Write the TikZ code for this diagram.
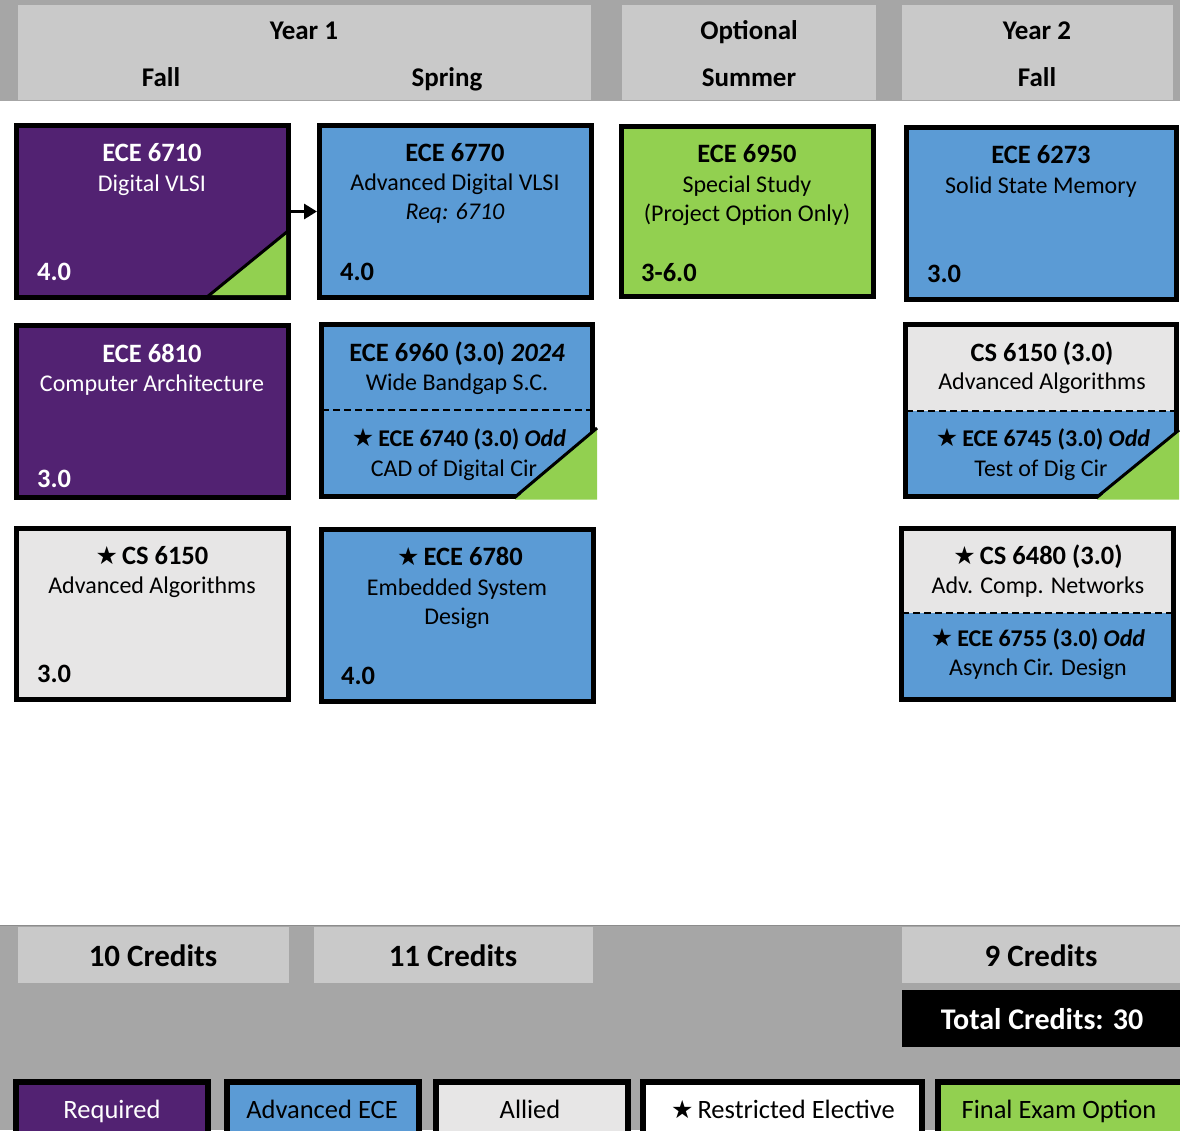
\documentclass[tikz,border=0pt]{standalone}
\usepackage{fontspec}
\setmainfont{Carlito}
\newfontfamily\starfont{DejaVu Sans}
\usetikzlibrary{arrows.meta}
\definecolor{bandgray}{HTML}{A6A6A6}
\definecolor{hdrgray}{HTML}{C9C9C9}
\definecolor{cpurple}{HTML}{522272}
\definecolor{cblue}{HTML}{5B9BD5}
\definecolor{cgreen}{HTML}{92D050}
\definecolor{callied}{HTML}{E7E6E6}
\newcommand{\mystar}{{\starfont\fontsize{25}{25}\selectfont\char"2605}\hspace{4pt}}
\newcommand{\fb}{\fontsize{24}{29}\selectfont}
\newcommand{\ft}{\fontsize{26.5}{29}\selectfont\bfseries}
\newcommand{\fs}{\fontsize{24}{29}\selectfont\bfseries}
\newcommand{\fl}{\fontsize{26.5}{29}\selectfont}
\newcommand{\fh}{\fontsize{27}{29}\selectfont\bfseries}
\newcommand{\fc}{\fontsize{31}{34}\selectfont\bfseries}
\begin{document}
\begin{tikzpicture}[x=1pt,y=-1pt,
  cbox/.style={draw=black, line width=5pt, outer sep=2.5pt, inner sep=0pt, anchor=north west},
  lgbox/.style={draw=black, line width=6pt, outer sep=3pt, inner sep=0pt, anchor=north west, minimum width=192pt, minimum height=80pt},
  hbox/.style={fill=hdrgray, inner sep=0pt, anchor=north west, outer sep=0pt},
  lbl/.style={anchor=base, inner sep=0pt, font=\fb},
  ttl/.style={anchor=base, inner sep=0pt, font=\ft},
  sttl/.style={anchor=base, inner sep=0pt, font=\fs},
  cr/.style={anchor=base west, inner sep=0pt, font=\ft},
  hdr/.style={anchor=base, inner sep=0pt, font=\fh},
  leg/.style={anchor=base, inner sep=0pt, font=\fl},
  dsh/.style={line width=2pt, dash pattern=on 7pt off 4pt},
  tri/.style={fill=cgreen},
  hyp/.style={line width=3pt}
]
\useasboundingbox (0,0) rectangle (1180,1130);
\fill[white] (0,0) rectangle (1180,1130);
% bands
\fill[bandgray] (0,0) rectangle (1180,101);
\fill[bandgray] (0,925) rectangle (1180,1130);
\draw[line width=1pt, black!45] (0,925.5) -- (1180,925.5);
% header boxes
\node[hbox, minimum width=573pt, minimum height=95pt] (hy1) at (18,5) {};
\node[hbox, minimum width=254pt, minimum height=95pt] (hopt) at (622,5) {};
\node[hbox, minimum width=271pt, minimum height=95pt] (hy2) at (902,5) {};
\node[hdr] (ty1) at (304,39) {Year 1};
\node[hdr] (tfall1) at (161,86) {Fall};
\node[hdr] (tspr) at (447,86) {Spring};
\node[hdr] (topt) at (749,39) {Optional};
\node[hdr] (tsum) at (749,86) {Summer};
\node[hdr] (ty2) at (1037,39) {Year 2};
\node[hdr] (tfall2) at (1037,86) {Fall};

% ---------- Row 1
\node[cbox, fill=cpurple, minimum width=272pt, minimum height=172pt] (b6710) at (14,123) {};
\fill[tri] (209,295) -- (286,232) -- (286,295) -- cycle;
\draw[hyp] (207,297) -- (288,231);
\node[ttl, white] (t6710a) at (152,161) {ECE 6710};
\node[lbl, white] (t6710b) at (152,191) {Digital VLSI};
\node[cr, white] (t6710c) at (37,280) {4.0};

\node[cbox, fill=cblue, minimum width=272pt, minimum height=172pt] (b6770) at (317,123) {};
\node[ttl] (t6770a) at (455,161) {ECE 6770};
\node[lbl] (t6770b) at (455,190) {Advanced Digital VLSI};
\node[lbl, font=\fb\itshape] (t6770c) at (455,219) {Req: 6710};
\node[cr] (t6770d) at (340,280) {4.0};
\draw[line width=3pt, -{Triangle[length=13pt,width=15pt]}] (b6710.east) -- (b6770.west);

\node[cbox, fill=cgreen, minimum width=252pt, minimum height=170pt] (b6950) at (619,124) {};
\node[ttl] (t6950a) at (747,162) {ECE 6950};
\node[lbl] (t6950b) at (747,192) {Special Study};
\node[lbl] (t6950c) at (747,221) {(Project Option Only)};
\node[cr] (t6950d) at (641,281) {3-6.0};

\node[cbox, fill=cblue, minimum width=270pt, minimum height=172pt] (b6273) at (904,125) {};
\node[ttl] (t6273a) at (1041,163) {ECE 6273};
\node[lbl] (t6273b) at (1041,193) {Solid State Memory};
\node[cr] (t6273c) at (927,282) {3.0};

% ---------- Row 2
\node[cbox, fill=cpurple, minimum width=272pt, minimum height=172pt] (b6810) at (14,323) {};
\node[ttl, white] (t6810a) at (152,362) {ECE 6810};
\node[lbl, white] (t6810b) at (152,391) {Computer Architecture};
\node[cr, white] (t6810c) at (37,487) {3.0};

\node[cbox, fill=cblue, minimum width=271pt, minimum height=172pt] (b6960) at (319,322) {};
\draw[dsh] (322,410) -- (592,410);
\fill[tri] (515,499.5) -- (597,428) -- (597,499.5) -- cycle;
\draw[hyp] (515,497) -- (597,428);
\node[ttl] (t6960a) at (457,361) {ECE 6960 (3.0) \textit{2024}};
\node[lbl] (t6960b) at (457,390) {Wide Bandgap S.C.};
\node[sttl] (t6740a) at (459,446) {\mystar ECE 6740 (3.0) \textit{Odd}};
\node[lbl] (t6740b) at (454,476) {CAD of Digital Cir};

\node[cbox, fill=cblue, minimum width=271pt, minimum height=172pt] (b6150r) at (903,322) {};
\fill[callied] (908,327) rectangle (1174,410.5);
\draw[dsh] (906,410.5) -- (1176,410.5);
\fill[tri] (1097,499.5) -- (1179,430) -- (1179,499.5) -- cycle;
\draw[hyp] (1097,497) -- (1179,430);
\node[ttl] (t6150ra) at (1042,361) {CS 6150 (3.0)};
\node[lbl] (t6150rb) at (1042,389) {Advanced Algorithms};
\node[sttl] (t6745a) at (1043,446) {\mystar ECE 6745 (3.0) \textit{Odd}};
\node[lbl] (t6745b) at (1041,476) {Test of Dig Cir};

% ---------- Row 3
\node[cbox, fill=callied, minimum width=272pt, minimum height=171pt] (b6150l) at (14,526) {};
\node[ttl] (t6150la) at (152,564) {\mystar CS 6150};
\node[lbl] (t6150lb) at (152,593) {Advanced Algorithms};
\node[cr] (t6150lc) at (37,682) {3.0};

\node[cbox, fill=cblue, minimum width=272pt, minimum height=172pt] (b6780) at (319,527) {};
\node[ttl] (t6780a) at (460,565) {\mystar ECE 6780};
\node[lbl] (t6780b) at (457,595) {Embedded System};
\node[lbl] (t6780c) at (457,624) {Design};
\node[cr] (t6780d) at (341,684) {4.0};

\node[cbox, fill=cblue, minimum width=272pt, minimum height=171pt] (b6480) at (899,526) {};
\fill[callied] (904,531) rectangle (1171,613);
\draw[dsh] (902,613) -- (1173,613);
\node[ttl] (t6480a) at (1038,564) {\mystar CS 6480 (3.0)};
\node[lbl] (t6480b) at (1038,593) {Adv. Comp. Networks};
\node[sttl] (t6755a) at (1038,646) {\mystar ECE 6755 (3.0) \textit{Odd}};
\node[lbl] (t6755b) at (1038,675) {Asynch Cir. Design};

% ---------- Credits
\node[hbox, minimum width=271pt, minimum height=56pt] (c1) at (18,927) {};
\node[hbox, minimum width=279pt, minimum height=56pt] (c2) at (314,927) {};
\node[hbox, minimum width=278pt, minimum height=56pt] (c3) at (902,927) {};
\node[anchor=base, inner sep=0pt, font=\fc] (tc1) at (153,966) {10 Credits};
\node[anchor=base, inner sep=0pt, font=\fc] (tc2) at (453,966) {11 Credits};
\node[anchor=base, inner sep=0pt, font=\fc] (tc3) at (1041,966) {9 Credits};
\node[fill=black, inner sep=0pt, anchor=north west, minimum width=278pt, minimum height=57pt] (ctot) at (902,990) {};
\node[anchor=base, inner sep=0pt, font=\fontsize{30}{34}\selectfont\bfseries, white] (tctot) at (1042,1029) {Total Credits: 30};

% ---------- Legend
\node[lgbox, fill=cpurple] (lreq) at (13,1079) {};
\node[lgbox, fill=cblue] (ladv) at (224,1079) {};
\node[lgbox, fill=callied] (lall) at (433,1079) {};
\node[lgbox, fill=white, minimum width=279pt] (lres) at (640,1079) {};
\node[lgbox, fill=cgreen, minimum width=250pt] (lfin) at (935,1079) {};
\node[leg, white] (tlreq) at (112,1118) {Required};
\node[leg] (tladv) at (322,1118) {Advanced ECE};
\node[leg] (tlall) at (530,1118) {Allied};
\node[leg] (tlres) at (783,1118) {\mystar Restricted Elective};
\node[leg] (tlfin) at (1059,1118) {Final Exam Option};
\end{tikzpicture}
\end{document}
